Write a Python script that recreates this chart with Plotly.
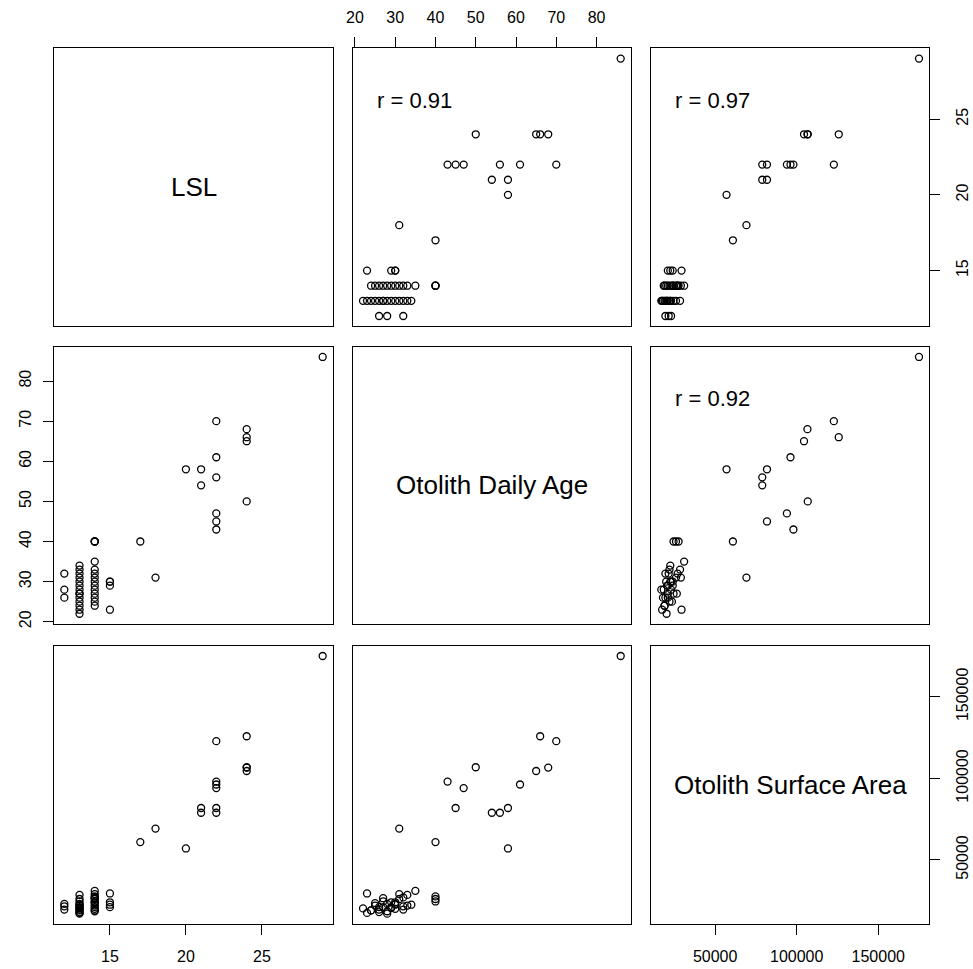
import plotly.graph_objects as go

# ---------------- data (one entry per fish) ----------------
var_names = ["LSL", "Otolith Daily Age", "Otolith Surface Area"]

lsl = [29, 24, 24, 24, 24, 22, 22, 22, 22, 22, 22, 21, 21, 20, 18, 17,
       12, 12, 12,
       13, 13, 13, 13, 13, 13, 13, 13, 13, 13, 13, 13, 13, 13,
       14, 14, 14, 14, 14, 14, 14, 14, 14, 14, 14, 14, 14, 14,
       15, 15, 15, 15]
age = [86, 68, 66, 65, 50, 70, 61, 56, 47, 45, 43, 58, 54, 58, 31, 40,
       26, 28, 32,
       22, 23, 24, 25, 26, 27, 27, 28, 29, 30, 31, 32, 33, 34,
       24, 25, 26, 27, 28, 29, 30, 31, 32, 33, 35, 40, 40, 40,
       23, 29, 30, 30]
area = [175000, 106600, 125800, 104500, 106800, 122800, 96200, 78900, 94000, 81800, 98000,
        81800, 78900, 57000, 69200, 60900,
        19500, 23000, 21500,
        20250, 17500, 19000, 22000, 18000, 21000, 24500, 17000, 20500, 23000, 26000, 19500, 28500, 22500,
        19000, 23500, 21000, 26500, 18500, 24000, 20000, 29000, 27000, 22000, 31000, 24500, 26000, 27600,
        29400, 21000, 22500, 24000]

r_labels = {(0, 1): "r = 0.91", (0, 2): "r = 0.97", (1, 2): "r = 0.92"}
tick_vals = [[15, 20, 25], [20, 30, 40, 50, 60, 70, 80], [50000, 100000, 150000]]

cols = [lsl, age, area]


def rng(v):
    lo, hi = min(v), max(v)
    pad = (hi - lo) * 0.04
    return [lo - pad, hi + pad]


W, H = 973, 969
x_px = [(54, 333), (352.7, 631), (651, 929.3)]
y_px = [(48.3, 326.3), (346.7, 624), (645.7, 924)]
x_dom = [[a / W, b / W] for a, b in x_px]
y_dom = [[1 - b / H, 1 - a / H] for a, b in y_px]

FONT = "Liberation Sans, Arial, sans-serif"
TICKFONT = dict(size=16, family=FONT, color="black")
fig = go.Figure()
layout = dict(
    width=W, height=H,
    margin=dict(l=0, r=0, t=0, b=0, autoexpand=False),
    paper_bgcolor="white", plot_bgcolor="white",
    showlegend=False,
    font=dict(family=FONT, color="black", size=14),
)
annotations = []

n = len(cols)
for i in range(n):
    for j in range(n):
        k = i * n + j + 1
        xs = "" if k == 1 else str(k)
        common = dict(showline=True, mirror=True, linecolor="black", linewidth=1,
                      showgrid=False, zeroline=False, ticks="", showticklabels=False,
                      automargin=False, fixedrange=True, tickfont=TICKFONT,
                      tickformat="d")
        xa = dict(domain=x_dom[j], anchor="y" + xs, range=rng(cols[j]), **common)
        ya = dict(domain=y_dom[i], anchor="x" + xs, range=rng(cols[i]), **common)
        # x axes: top for odd columns in first row, bottom for even columns in last row
        if i == 0 and j % 2 == 1:
            xa.update(side="top", ticks="outside", ticklen=10, tickcolor="black",
                      showticklabels=True, tickvals=tick_vals[j], ticklabelstandoff=8)
        if i == n - 1 and j % 2 == 0:
            xa.update(side="bottom", ticks="outside", ticklen=10, tickcolor="black",
                      showticklabels=True, tickvals=tick_vals[j], ticklabelstandoff=8)
        if j == 0 and i % 2 == 1:
            ya.update(side="left", ticks="outside", ticklen=10, tickcolor="black",
                      showticklabels=True, tickvals=tick_vals[i], tickangle=-90,
                      ticklabelstandoff=6)
        if j == n - 1 and i % 2 == 0:
            ya.update(side="right", ticks="outside", ticklen=10, tickcolor="black",
                      showticklabels=True, tickvals=tick_vals[i], tickangle=-90,
                      ticklabelstandoff=8)
        layout["xaxis" + xs] = xa
        layout["yaxis" + xs] = ya

        if i == j:
            # invisible trace so the diagonal panel (frame + axes) is drawn
            fig.add_trace(go.Scatter(
                x=cols[j], y=cols[i], mode="markers",
                xaxis="x" + xs, yaxis="y" + xs,
                marker=dict(opacity=0, size=1), hoverinfo="skip"))
            annotations.append(dict(text=var_names[i], x=0.5, y=0.5,
                                    xref="x" + xs + " domain", yref="y" + xs + " domain",
                                    showarrow=False, font=dict(size=26, family=FONT)))
        else:
            fig.add_trace(go.Scatter(
                x=cols[j], y=cols[i], mode="markers",
                xaxis="x" + xs, yaxis="y" + xs,
                marker=dict(symbol="circle-open", size=7, color="black",
                            line=dict(width=1.3, color="black")),
                hoverinfo="x+y"))
            if (i, j) in r_labels:
                annotations.append(dict(text=r_labels[(i, j)], x=0.08, y=0.814,
                                        xref="x" + xs + " domain", yref="y" + xs + " domain",
                                        xanchor="left", yanchor="middle",
                                        showarrow=False, font=dict(size=22, family=FONT)))

layout["annotations"] = annotations
fig.update_layout(**layout)
fig.write_html("out.html", config={"displayModeBar": False},
               post_script="document.body.style.margin='0';document.body.style.overflow='hidden';")
